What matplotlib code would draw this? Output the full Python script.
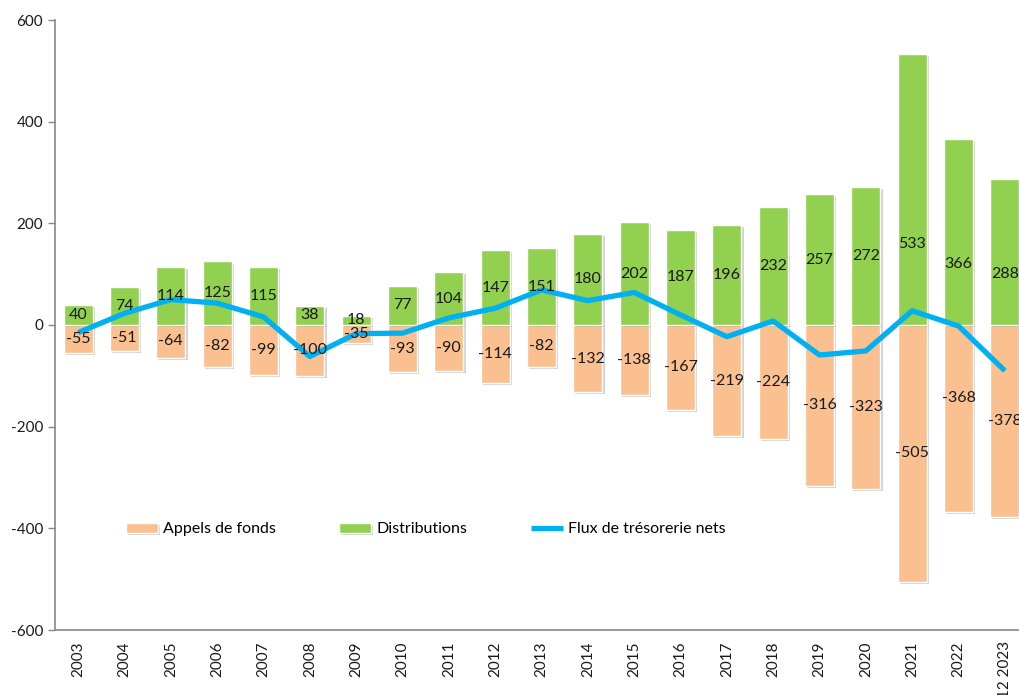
import matplotlib
matplotlib.use("Agg")
import matplotlib.pyplot as plt
import matplotlib.patheffects as pe
import numpy as np

years = ["2003", "2004", "2005", "2006", "2007", "2008", "2009", "2010", "2011", "2012",
         "2013", "2014", "2015", "2016", "2017", "2018", "2019", "2020", "2021", "2022", "12 2023"]
distributions = [40, 74, 114, 125, 115, 38, 18, 77, 104, 147, 151, 180, 202, 187, 196, 232, 257, 272, 533, 366, 288]
appels = [-55, -51, -64, -82, -99, -100, -35, -93, -90, -114, -82, -132, -138, -167, -219, -224, -316, -323, -505, -368, -378]
flux = [d + a for d, a in zip(distributions, appels)]

# label placement as fraction of bar height (layout)
dist_frac = [0.5] * 18 + [0.30, 0.33, 0.35]
app_frac = [0.5] * 19 + [0.39, 0.5]

plt.rcParams['font.family'] = ['Lato', 'DejaVu Sans']
plt.rcParams['axes.unicode_minus'] = False

fig = plt.figure(figsize=(10.19, 6.95), dpi=100)
ax = fig.add_axes([55 / 1019, 65 / 695, 973 / 1019, 610 / 695])

x = np.arange(len(years))
w = 0.63
green = "#92D050"
peach = "#FAC090"
blue = "#00B0F0"
shadow = [pe.SimplePatchShadow(offset=(1.5, -1.5), shadow_rgbFace="#808080", alpha=0.35), pe.Normal()]

b1 = ax.bar(x, appels, width=w, color=peach, edgecolor="white", linewidth=1.0, zorder=2, label="Appels de fonds")
b2 = ax.bar(x, distributions, width=w, color=green, edgecolor="white", linewidth=1.0, zorder=2, label="Distributions")
for b in list(b1) + list(b2):
    b.set_path_effects(shadow)

ln, = ax.plot(x, flux, color=blue, linewidth=3.8, zorder=3, solid_capstyle="butt", label="Flux de trésorerie nets")

for i in range(len(years)):
    ax.text(x[i], distributions[i] * dist_frac[i], str(distributions[i]), ha="center", va="center",
            fontsize=11.5, color="#1a1a1a", zorder=4)
    ax.text(x[i], appels[i] * app_frac[i], str(appels[i]), ha="center", va="center",
            fontsize=11.5, color="#1a1a1a", zorder=4)

ax.set_xlim(-0.5, len(years) - 0.5)
ax.set_ylim(-600, 600)
ax.set_yticks([-600, -400, -200, 0, 200, 400, 600])
ax.set_xticks(x)
ax.set_xticklabels(years, rotation=90, fontsize=11, color="#1a1a1a")
ax.tick_params(axis="y", labelsize=11, labelcolor="#1a1a1a", color="#888888", length=5, width=1)
ax.tick_params(axis="x", length=0, pad=8)

for s in ["top", "right"]:
    ax.spines[s].set_visible(False)
for s in ["left", "bottom"]:
    ax.spines[s].set_color("#888888")
    ax.spines[s].set_linewidth(1.2)

leg = ax.legend(handles=[b1, b2, ln], loc="center left", bbox_to_anchor=(0.058, 0.165), ncol=3,
                frameon=False, fontsize=11.5, handlelength=2.0, handleheight=0.6, columnspacing=4.0,
                handletextpad=0.3)

fig.savefig("out.png", dpi=100)
